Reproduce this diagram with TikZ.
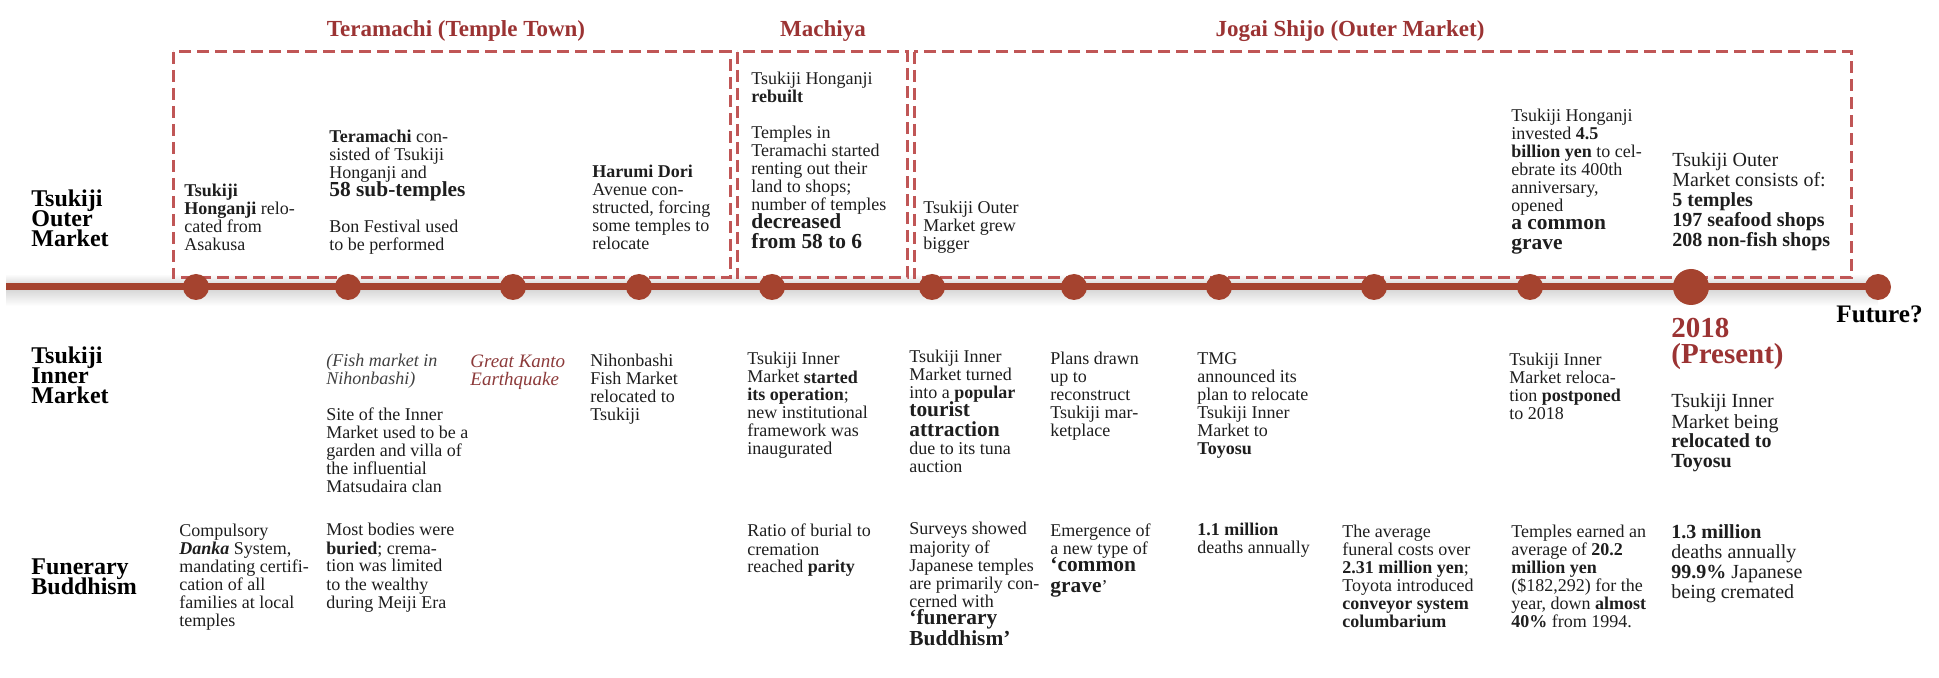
\documentclass[tikz,border=0pt]{standalone}
\usepackage{fontspec}
\setmainfont{Liberation Serif}
\usetikzlibrary{positioning}
\definecolor{rust}{HTML}{A5432F}
\definecolor{dashred}{HTML}{C05656}
\definecolor{ttlred}{HTML}{9B3333}
\definecolor{quake}{HTML}{8C3A3A}
\definecolor{ink}{HTML}{1E1E1E}
\newcommand{\bigb}[1]{{\fontsize{10.7}{9}\selectfont\bfseries #1}}
\newcommand{\txtfont}{\fontsize{9}{9}\selectfont\lineskiplimit=-20pt}
\newcommand{\lrgfont}{\fontsize{10}{10}\selectfont\lineskiplimit=-20pt}
\newcommand{\rowfont}{\fontsize{12}{10}\selectfont\bfseries\lineskiplimit=-20pt}
\newcommand{\prsfont}{\fontsize{14.5}{13}\selectfont\bfseries\lineskiplimit=-20pt}
% nodes are placed by the baseline of their last line
\tikzstyle{txt} = [anchor=base west, align=left, inner sep=0pt, text=ink, font=\txtfont]
\tikzstyle{txtl} = [txt, font=\lrgfont]
\tikzstyle{row} = [txt, text=black, font=\rowfont]
\tikzstyle{era} = [anchor=base, inner sep=0pt, text=ttlred, font=\fontsize{11.5}{12}\selectfont\bfseries]
\tikzstyle{dot} = [circle, fill=rust, inner sep=0pt, minimum size=13pt]
\tikzstyle{bigdot} = [dot, minimum size=18pt]
\tikzstyle{tline} = [draw=rust, line width=3.5pt]
\tikzstyle{period} = [draw=dashred, line width=1.5pt, dash pattern=on 6pt off 3pt]
\begin{document}
\begin{tikzpicture}[x=0.5pt, y=-0.5pt]
        \useasboundingbox (0,0) rectangle (1939,678);

        % shadow under the time line
        \shade[top color=white, bottom color=black!18] (6,274) rectangle (1878,287);
        \shade[top color=black!18, bottom color=white] (6,287) rectangle (1878,306);

        % periods
        \draw[period] (173,52) rectangle (730,278);
        \draw[period] (737,52) rectangle (907,278);
        \draw[period] (914,52) rectangle (1851,278);
        \node[era] (tera) at (456,37)  {Teramachi (Temple Town)};
        \node[era] (mchy) at (823,37)  {Machiya};
        \node[era] (jgai) at (1350,37) {Jogai Shijo (Outer Market)};

        % time line
        \coordinate (strt) at (6,287);
        \coordinate (fend) at (1878,287);
        \path[tline] (strt) -- (fend);
        \node[dot]    (d1)  at (196,287)  {};
        \node[dot]    (d2)  at (348,287)  {};
        \node[dot]    (d3)  at (513,287)  {};
        \node[dot]    (d4)  at (639,287)  {};
        \node[dot]    (d5)  at (772,287)  {};
        \node[dot]    (d6)  at (932,287)  {};
        \node[dot]    (d7)  at (1074,287) {};
        \node[dot]    (d8)  at (1219,287) {};
        \node[dot]    (d9)  at (1374,287) {};
        \node[dot]    (d10) at (1530,287) {};
        \node[bigdot] (d11) at (1691,287) {};
        \node[dot]    (d12) at (1878,287) {};
        \node[row, font=\fontsize{12.6}{10}\selectfont\bfseries] (futr) at (1836,323) {Future?};

        % row titles
        \node[row] (outr) at (31,247) {Tsukiji\\Outer\\Market};
        \node[row] (innr) at (31,404) {Tsukiji\\Inner\\Market};
        \node[row] (fnrl) at (31,595) {Funerary\\Buddhism};

        % outer market
        \node[txt]  (asak) at (184,251)  {\textbf{Tsukiji}\\\textbf{Honganji} relo-\\cated from\\Asakusa};
        \node[txt]  (subt) at (329,251)  {\textbf{Teramachi} con-\\sisted of Tsukiji\\Honganji and\\\bigb{58 sub-temples}\\\mbox{}\\Bon Festival used\\to be performed};
        \node[txt]  (harm) at (592,250)  {\textbf{Harumi Dori}\\Avenue con-\\structed, forcing\\some temples to\\relocate};
        \node[txt]  (rblt) at (751,249)  {Tsukiji Honganji\\\textbf{rebuilt}\\\mbox{}\\Temples in\\Teramachi started\\renting out their\\land to shops;\\number of temples\\\bigb{decreased}\\[1pt]\bigb{from 58 to 6}};
        \node[txt]  (grow) at (923,250)  {Tsukiji Outer\\Market grew\\bigger};
        \node[txt]  (invs) at (1511,250) {Tsukiji Honganji\\invested \textbf{4.5}\\\textbf{billion yen} to cel-\\ebrate its 400th\\anniversary,\\opened\\\bigb{a common}\\[1pt]\bigb{grave}};
        \node[txtl] (cnst) at (1672,247) {Tsukiji Outer\\Market consists of:\\\textbf{5 temples}\\\textbf{197 seafood shops}\\\textbf{208 non-fish shops}};

        % inner market
        \node[txt]  (fish) at (326,493)  {\textit{\color{black!75}(Fish market in}\\\textit{\color{black!75}Nihonbashi)}\\\mbox{}\\Site of the Inner\\Market used to be a\\garden and villa of\\the influential\\Matsudaira clan};
        \node[txt, text=quake, font=\fontsize{9.5}{9}\selectfont\itshape] (kant) at (470,386) {Great Kanto\\Earthquake};
        \node[txt]  (nihb) at (590,421)  {Nihonbashi\\Fish Market\\relocated to\\Tsukiji};
        \node[txt]  (oper) at (747,455)  {Tsukiji Inner\\Market \textbf{started}\\\textbf{its operation};\\new institutional\\framework was\\inaugurated};
        \node[txt]  (tour) at (909,473)  {Tsukiji Inner\\Market turned\\into a \textbf{popular}\\\bigb{tourist}\\[1pt]\bigb{attraction}\\due to its tuna\\auction};
        \node[txt]  (plan) at (1050,437) {Plans drawn\\up to\\reconstruct\\Tsukiji mar-\\ketplace};
        \node[txt]  (tmgp) at (1197,455) {TMG\\announced its\\plan to relocate\\Tsukiji Inner\\Market to\\\textbf{Toyosu}};
        \node[txt]  (pstp) at (1509,420) {Tsukiji Inner\\Market reloca-\\tion \textbf{postponed}\\to 2018};
        \node[txt, text=ttlred, font=\prsfont] (prsy) at (1671,364) {2018\\(Present)};
        \node[txtl] (relc) at (1671,468) {Tsukiji Inner\\Market being\\\textbf{relocated to}\\\textbf{Toyosu}};

        % funerary buddhism
        \node[txt]  (dnka) at (179,626)  {Compulsory\\\textbf{\textit{Danka}} System,\\mandating certifi-\\cation of all\\families at local\\temples};
        \node[txt]  (buri) at (326,608)  {Most bodies were\\\textbf{buried}; crema-\\tion was limited\\to the wealthy\\during Meiji Era};
        \node[txt]  (prty) at (747,573)  {Ratio of burial to\\cremation\\reached \textbf{parity}};
        \node[txt]  (svey) at (909,645)  {Surveys showed\\majority of\\Japanese temples\\are primarily con-\\cerned with\\\bigb{‘funerary}\\[1pt]\bigb{Buddhism’}};
        \node[txt]  (emrg) at (1050,592) {Emergence of\\a new type of\\\bigb{‘common}\\[1pt]\bigb{grave}’};
        \node[txt]  (mill) at (1197,553) {\textbf{1.1 million}\\deaths annually};
        \node[txt]  (cost) at (1342,627) {The average\\funeral costs over\\\textbf{2.31 million yen};\\Toyota introduced\\\textbf{conveyor system}\\\textbf{columbarium}};
        \node[txt]  (earn) at (1511,627) {Temples earned an\\average of \textbf{20.2}\\\textbf{million yen}\\(\$182,292) for the\\year, down \textbf{almost}\\\textbf{40\%} from 1994.};
        \node[txtl] (crem) at (1671,598) {\textbf{1.3 million}\\deaths annually\\\textbf{99.9\%} Japanese\\being cremated};
      \end{tikzpicture}
\end{document}
